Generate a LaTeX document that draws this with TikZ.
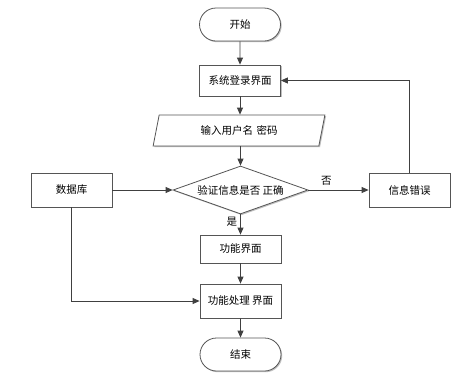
\documentclass[tikz,border=0pt]{standalone}
\usepackage{fontspec}
\setmainfont{Noto Sans CJK SC}
\usetikzlibrary{shapes.geometric,shapes.misc,arrows.meta,shadows}
\definecolor{edge}{HTML}{555555}
\definecolor{ln}{HTML}{404040}
\tikzset{
  x=1pt,y=1pt,
  base/.style={draw=edge,line width=0.8pt,fill=white,font=\fontsize{10.5}{12}\selectfont,inner sep=0pt,
    drop shadow={shadow xshift=1.2pt,shadow yshift=-1.2pt,fill=black!25,opacity=1}},
  procbox/.style={base,rectangle,minimum width=81pt,minimum height=31pt},
  termbox/.style={base,rounded rectangle,minimum width=81pt,minimum height=33pt},
  iobox/.style={base,trapezium,trapezium left angle=67,trapezium right angle=113,minimum height=31pt,text width=110pt,align=center},
  decbox/.style={base,diamond,aspect=2.8,minimum width=135pt,minimum height=48pt},
  conn/.style={draw=ln,line width=0.8pt,-{Triangle[length=7pt,width=6pt]}},
  lbl/.style={font=\fontsize{10.5}{12}\selectfont,inner sep=0pt}
}
\begin{document}
\begin{tikzpicture}
\path[use as bounding box,fill=white] (0,0) rectangle (470,-381);
\node[termbox] (start) at (240,-24.5) {开始};
\node[procbox] (login) at (240,-80.5) {系统登录界面};
\node[iobox,trapezium stretches=true,minimum width=172pt] (input) at (239,-130.5) {输入用户名 密码};
\node[decbox] (check) at (240.5,-190) {验证信息是否 正确};
\node[procbox,minimum height=34pt] (db) at (71.5,-190) {数据库};
\node[procbox,minimum height=34pt] (err) at (409.5,-190) {信息错误};
\node[procbox,minimum height=28pt] (func) at (240.5,-249) {功能界面};
\node[procbox,minimum height=34pt] (proc) at (240.5,-301) {功能处理 界面};
\node[termbox] (stop) at (240.5,-354.5) {结束};
\draw[conn] (start) -- (login);
\draw[conn] (login) -- (input.north -| login.south);
\draw[conn] (input.south -| check.north) -- (check);
\draw[conn] (db) -- (check);
\draw[conn] (check) -- node[lbl,above,pos=0.3,yshift=4pt] (no) {否} (err);
\draw[conn] (check) -- node[lbl,left,pos=0.35,xshift=-3pt] (yes) {是} (func);
\draw[conn] (func) -- (proc);
\draw[conn] (proc) -- (stop);
\draw[conn] (err.north) |- (login.east);
\draw[conn] (db.south) |- (proc.west);
\end{tikzpicture}
\end{document}
